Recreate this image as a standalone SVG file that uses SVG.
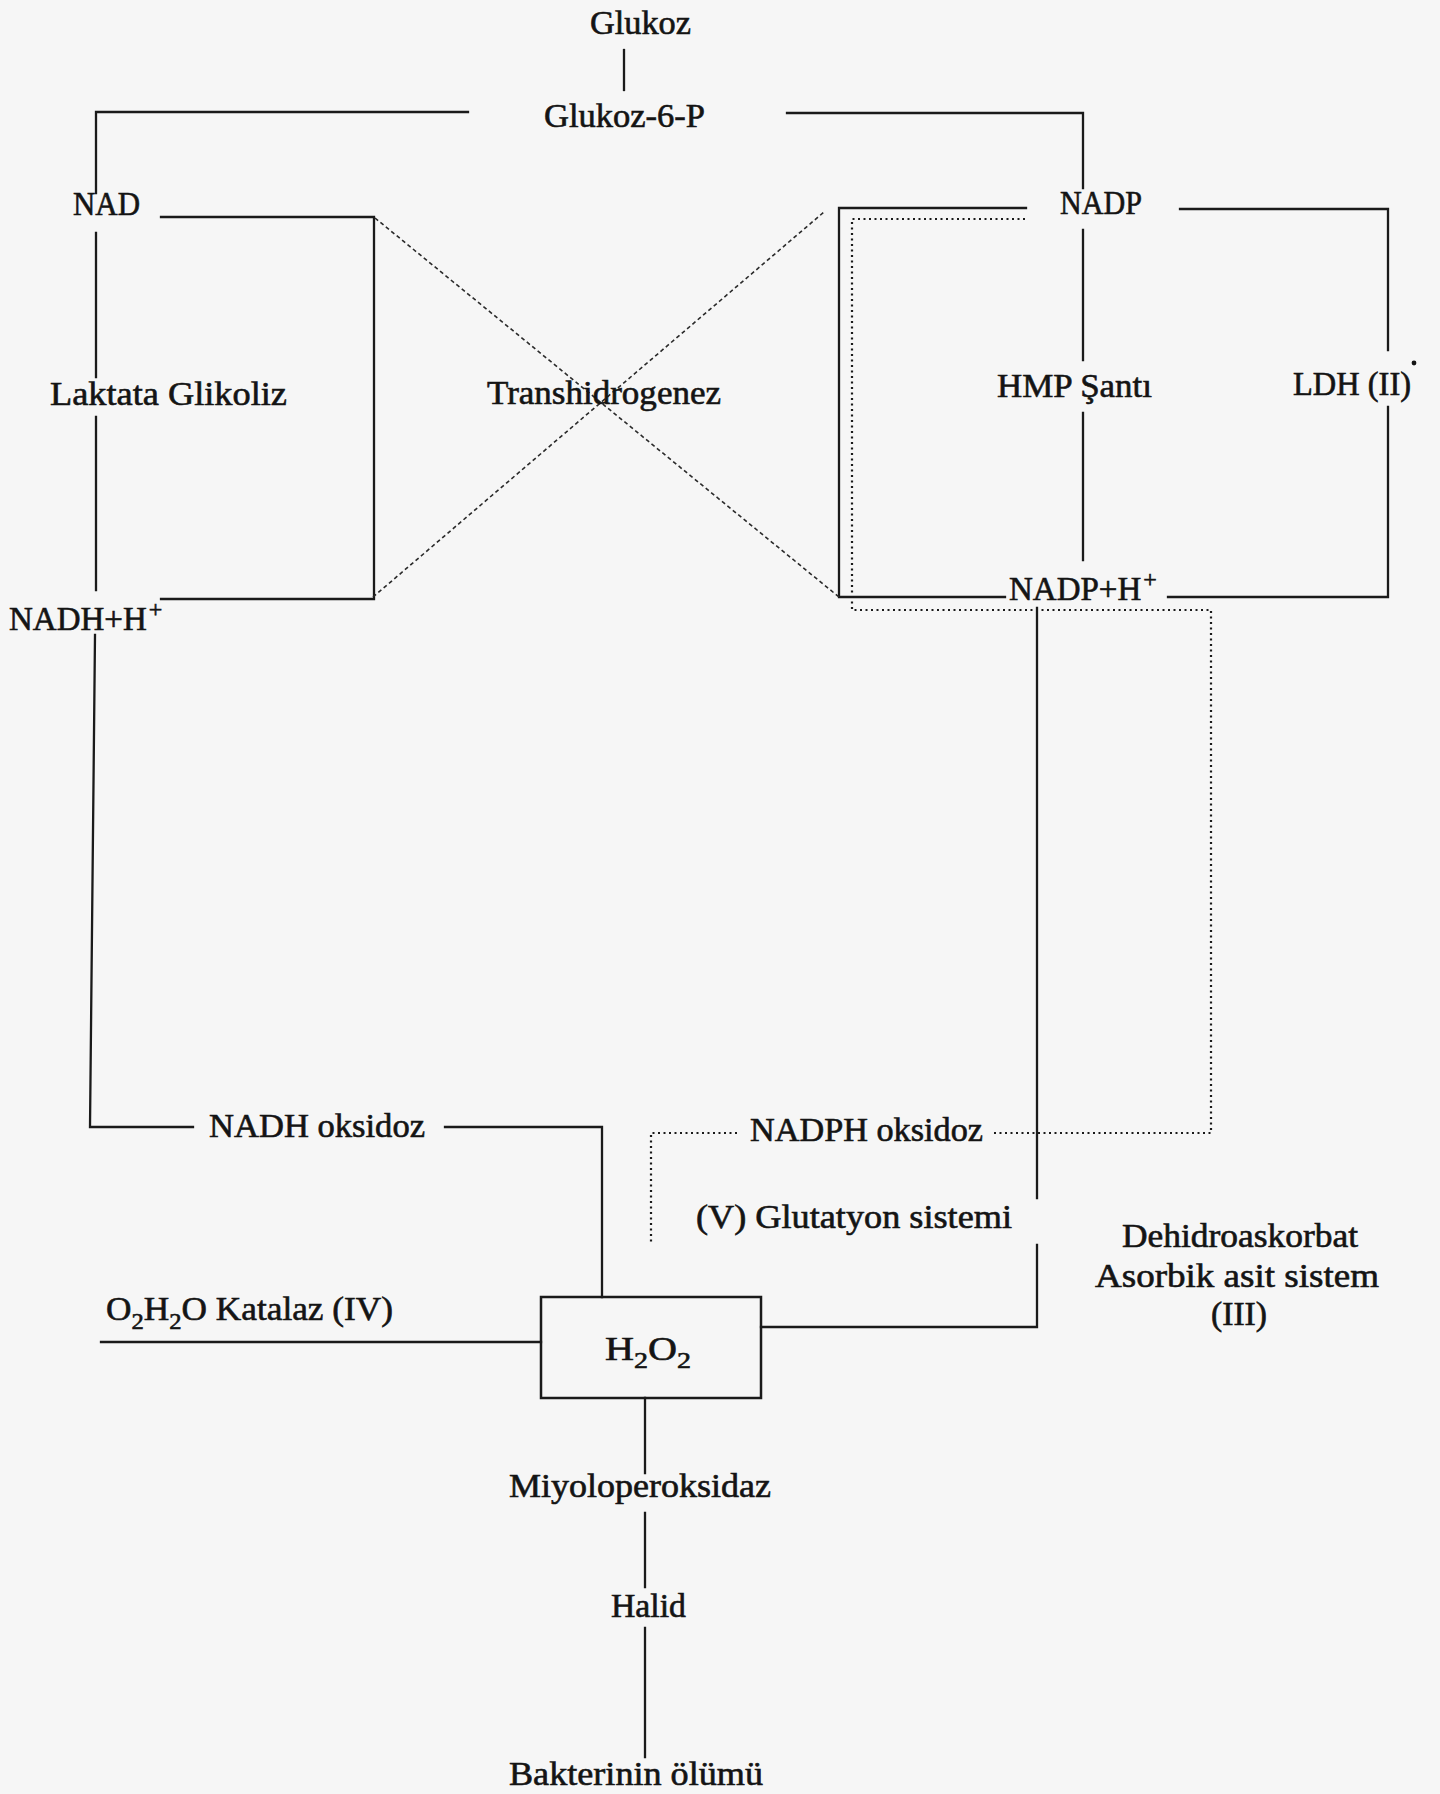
<svg xmlns="http://www.w3.org/2000/svg" width="1440" height="1794" viewBox="0 0 1440 1794">
<style>
.bg{fill:#f6f6f6}
text{font-family:"Liberation Serif","Times New Roman",serif;font-size:33px;fill:#141414;stroke:#141414;stroke-width:0.6}
.sub{font-size:23px}
.sup{font-size:24px}
.s{stroke:#1a1a1a;stroke-width:2.3;fill:none;stroke-linecap:square}
.d{stroke:#1a1a1a;stroke-width:2.2;fill:none;stroke-dasharray:2 3.5}
.x{stroke:#2a2a2a;stroke-width:1.6;fill:none;stroke-dasharray:4 3}
</style>
<rect class="bg" x="0" y="0" width="1440" height="1794"/>
<g id="connectors">
  <path class="s" d="M624 50V90"/>
  <path class="s" d="M468 112H96V193M96 233V377M96 417V590M95 635L90 1127H193M445 1127H602V1297"/>
  <path class="s" d="M161 217H374V599H161"/>
  <path class="s" d="M787 113H1083V188M1083 230V360M1083 413V560"/>
  <path class="s" d="M1026 208H839V597H1005"/>
  <path class="s" d="M1180 209H1388V350M1388 407V597H1168"/>
  <path class="s" d="M1037 608V1198M1037 1245V1327H761"/>
  <path class="s" d="M101 1342H541"/>
  <path class="s" d="M645 1398V1473M645 1513V1587M645 1628V1757"/>
  <path class="d" d="M1025 219H852V610H1211V1133H994M737 1133H651V1243"/>
  <path class="x" d="M375 218L839 597"/>
  <path class="x" d="M373 597L824 212"/>
</g>
<g id="n-glukoz"><text x="590" y="34" textLength="101" lengthAdjust="spacingAndGlyphs">Glukoz</text></g>
<g id="n-glukoz6p"><text x="544" y="127" textLength="161" lengthAdjust="spacingAndGlyphs">Glukoz-6-P</text></g>
<g id="n-nad"><text x="73" y="215" textLength="67" lengthAdjust="spacingAndGlyphs">NAD</text></g>
<g id="n-laktata"><text x="50" y="405" textLength="237" lengthAdjust="spacingAndGlyphs">Laktata  Glikoliz</text></g>
<g id="n-transhidrogenez"><text x="487" y="404" textLength="234" lengthAdjust="spacingAndGlyphs">Transhidrogenez</text></g>
<g id="n-nadp"><text x="1060" y="214" textLength="82" lengthAdjust="spacingAndGlyphs">NADP</text></g>
<g id="n-hmp"><text x="997" y="397" textLength="155" lengthAdjust="spacingAndGlyphs">HMP  Şantı</text></g>
<g id="n-ldh"><text x="1293" y="395" textLength="118" lengthAdjust="spacingAndGlyphs">LDH (II)</text><circle cx="1414" cy="363" r="2.4" fill="#141414"/></g>
<g id="n-nadhh"><text x="9" y="630">NADH+H<tspan class="sup" dx="2" dy="-13">+</tspan></text></g>
<g id="n-nadphh"><text x="1009" y="600">NADP+H<tspan class="sup" dx="2" dy="-13">+</tspan></text></g>
<g id="n-nadhoks"><text x="209" y="1137" textLength="216" lengthAdjust="spacingAndGlyphs">NADH oksidoz</text></g>
<g id="n-nadphoks"><text x="750" y="1141" textLength="233" lengthAdjust="spacingAndGlyphs">NADPH oksidoz</text></g>
<g id="n-glutatyon"><text x="696" y="1228" textLength="316" lengthAdjust="spacingAndGlyphs">(V)  Glutatyon  sistemi</text></g>
<g id="n-askorbat">
  <text x="1122" y="1247" textLength="236" lengthAdjust="spacingAndGlyphs">Dehidroaskorbat</text>
  <text x="1095" y="1287" textLength="284" lengthAdjust="spacingAndGlyphs">Asorbik  asit  sistem</text>
  <text x="1211" y="1325" textLength="56" lengthAdjust="spacingAndGlyphs">(III)</text>
</g>
<g id="n-katalaz"><text x="106" y="1320" textLength="287" lengthAdjust="spacingAndGlyphs">O<tspan class="sub" dy="9">2</tspan><tspan dy="-9">H</tspan><tspan class="sub" dy="9">2</tspan><tspan dy="-9">O Katalaz (IV)</tspan></text></g>
<g id="n-h2o2">
  <rect class="s" x="541" y="1297" width="220" height="101" style="stroke-width:2.5"/>
  <text x="605" y="1360" textLength="86" lengthAdjust="spacingAndGlyphs">H<tspan class="sub" dy="8">2</tspan><tspan dy="-8">O</tspan><tspan class="sub" dy="8">2</tspan></text>
</g>
<g id="n-miyelo"><text x="509" y="1497" textLength="262" lengthAdjust="spacingAndGlyphs">Miyoloperoksidaz</text></g>
<g id="n-halid"><text x="611" y="1617" textLength="75" lengthAdjust="spacingAndGlyphs">Halid</text></g>
<g id="n-bakteri"><text x="509" y="1785" textLength="254" lengthAdjust="spacingAndGlyphs">Bakterinin ölümü</text></g>
</svg>
